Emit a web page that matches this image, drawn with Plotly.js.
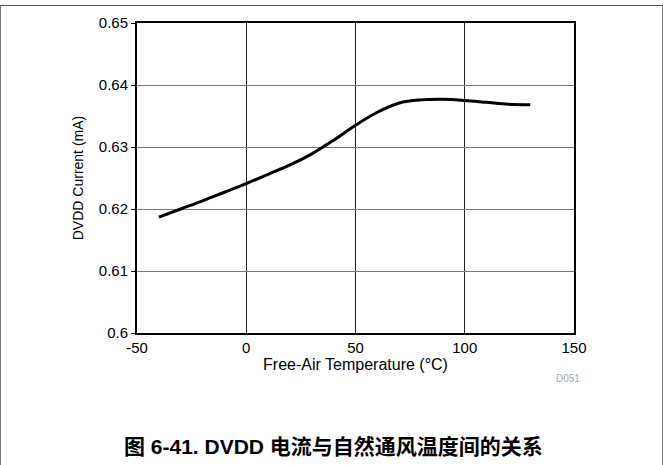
<!DOCTYPE html>
<html>
<head>
<meta charset="utf-8">
<script src="https://cdn.plot.ly/plotly-3.0.1.min.js"></script>
<style>html,body{margin:0;padding:0;background:#fff;}#chart{width:663px;height:465px;}</style>
</head>
<body>
<div id="chart"></div>
<script>
const temperature = [-40, -30, -20, -10, 0, 10, 20, 30, 40, 50, 60, 70, 80, 90, 100, 110, 120, 130];
const dvddCurrent = [0.6187, 0.6200, 0.6213, 0.6227, 0.6241, 0.6256, 0.6271, 0.6289, 0.6311, 0.6335, 0.6356, 0.6371, 0.6376, 0.6377, 0.6375, 0.6372, 0.6369, 0.6368];
const xTicks = [-50, 0, 50, 100, 150];
const xTickText = ['-50', '0', '50', '100', '150'];
const yTicks = [0.6, 0.61, 0.62, 0.63, 0.64, 0.65];
const yTickText = ['0.6', '0.61', '0.62', '0.63', '0.64', '0.65'];
const xTitle = 'Free-Air Temperature (°C)';
const yTitle = 'DVDD Current (mA)';
const caption = '图 6-41. DVDD 电流与自然通风温度间的关系';
const code = 'D051';

const W = 663, H = 465, L = 137, R = 89, T = 23, B = 132;
const pw = W - L - R, ph = H - T - B;
const px = v => (v - L) / pw;
const py = v => (H - B - v) / ph;

const font = 'Liberation Sans, Arial, sans-serif';

Plotly.newPlot('chart', [{
  x: temperature, y: dvddCurrent, type: 'scatter', mode: 'lines',
  line: {color: '#000', width: 3, shape: 'spline', smoothing: 1},
  hoverinfo: 'skip'
}], {
  width: W, height: H,
  margin: {l: L, r: R, t: T, b: B},
  paper_bgcolor: '#fff', plot_bgcolor: '#fff',
  showlegend: false,
  font: {family: font, size: 15, color: '#000'},
  xaxis: {
    range: [-50, 150], tickvals: xTicks, ticktext: xTickText,
    showgrid: true, gridcolor: '#222', gridwidth: 1,
    showline: true, linecolor: '#000', linewidth: 2, mirror: true,
    ticks: '', zeroline: false, tickfont: {size: 15, family: font},
    title: {text: xTitle, font: {size: 16, family: font}, standoff: 2}
  },
  yaxis: {
    range: [0.6, 0.65], tickvals: yTicks, ticktext: yTickText,
    showgrid: true, gridcolor: '#777', gridwidth: 1,
    showline: true, linecolor: '#000', linewidth: 2, mirror: true,
    ticks: 'outside', ticklen: 4, tickcolor: '#000', zeroline: false,
    tickfont: {size: 15, family: font},
    title: {text: yTitle, font: {size: 14, family: font}, standoff: 12}
  },
  shapes: [
    {type: 'line', xref: 'paper', yref: 'paper', x0: px(0.5), x1: px(0.5), y0: py(5), y1: py(466), line: {color: '#777', width: 1}},
    {type: 'line', xref: 'paper', yref: 'paper', x0: px(662.5), x1: px(662.5), y0: py(5), y1: py(466), line: {color: '#777', width: 1}},
    {type: 'line', xref: 'paper', yref: 'paper', x0: px(0), x1: px(663), y0: py(5.5), y1: py(5.5), line: {color: '#555', width: 1}}
  ],
  annotations: [
    {text: code, xref: 'paper', yref: 'paper', x: px(582), y: py(378), xanchor: 'right', yanchor: 'middle', showarrow: false, font: {size: 10, color: '#aaa', family: font}},
    {text: '<b>' + caption + '</b>', xref: 'paper', yref: 'paper', x: px(333), y: py(446), xanchor: 'center', yanchor: 'middle', showarrow: false, font: {size: 21, color: '#000', family: 'Liberation Sans, Noto Sans CJK SC, sans-serif'}}
  ]
}, {displayModeBar: false, staticPlot: true});
</script>
</body>
</html>
